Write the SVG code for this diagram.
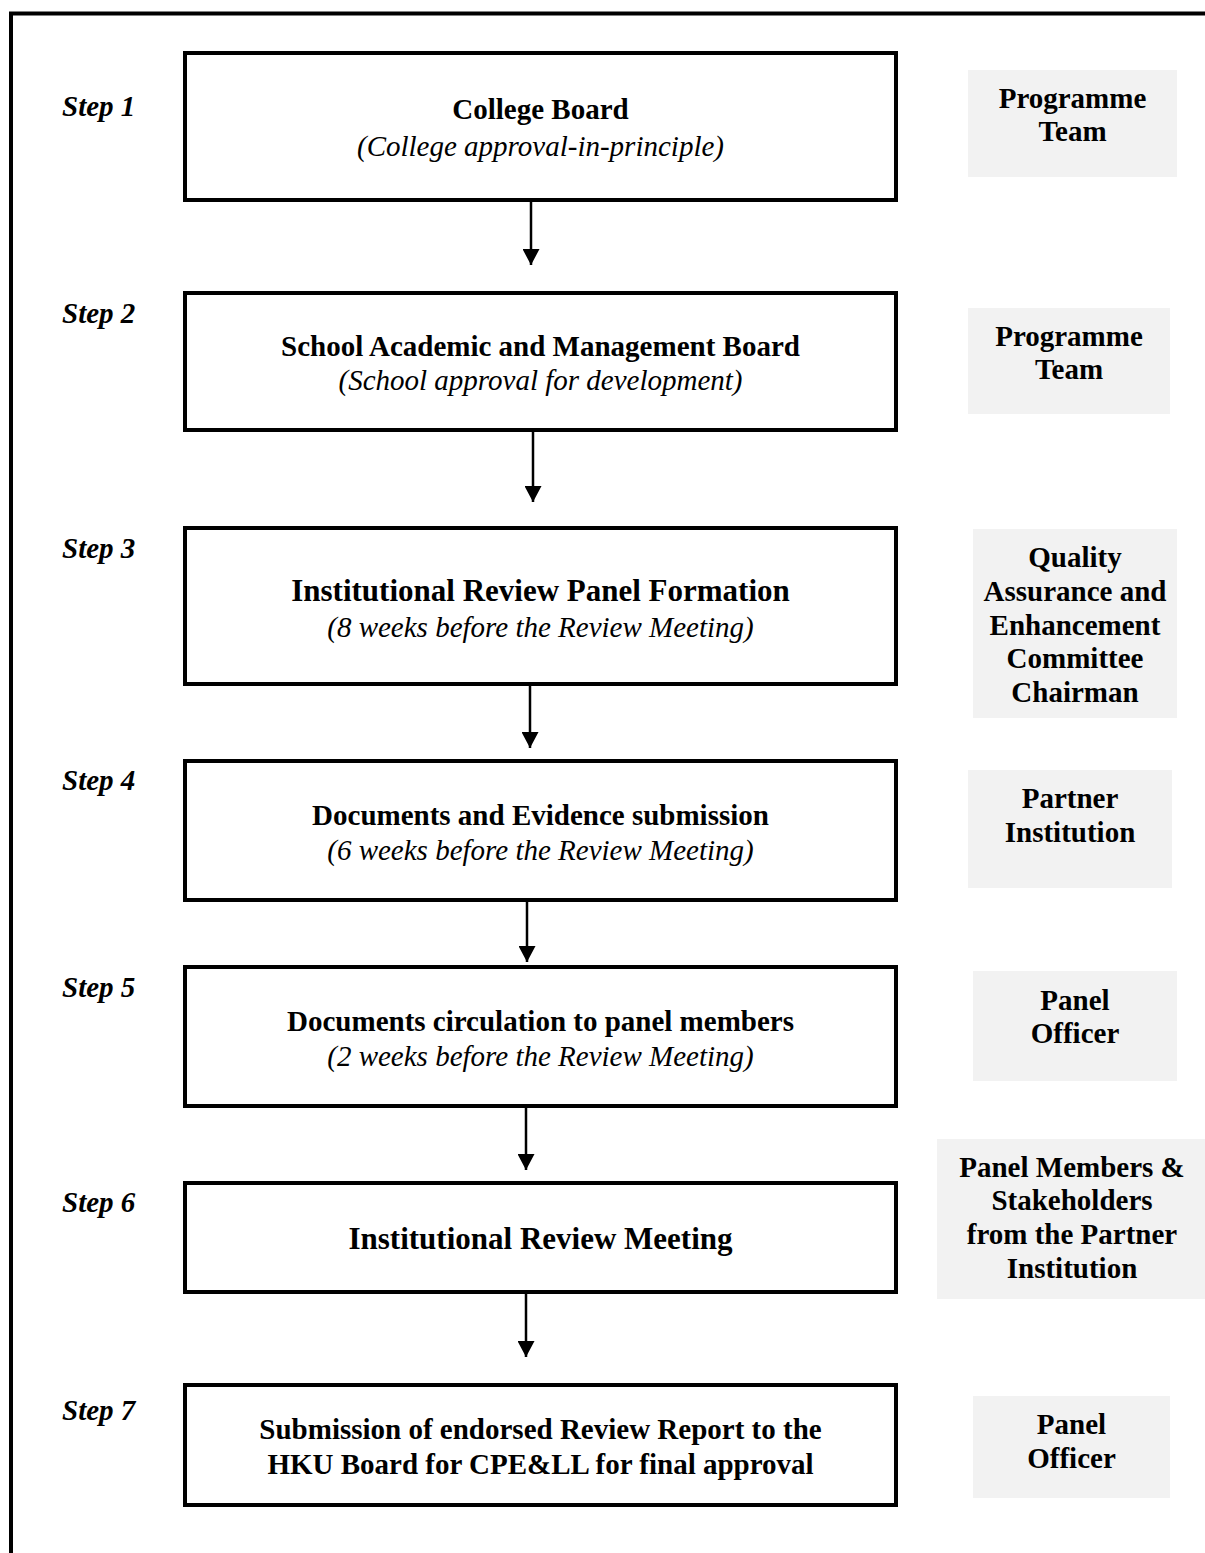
<svg xmlns="http://www.w3.org/2000/svg" width="1205" height="1553" viewBox="0 0 1205 1553">
  <style>
    text { font-family: "Liberation Serif", "Times New Roman", serif; font-size: 29px; fill: #000; }
    .step { font-weight: bold; font-style: italic; }
    .title { font-weight: bold; text-anchor: middle; }
    .big { font-size: 31px; }
    .sub { font-style: italic; text-anchor: middle; }
    .role { font-weight: bold; text-anchor: middle; }
    .box { fill: #fff; stroke: #000; stroke-width: 4; }
    .actor { fill: #f2f2f2; stroke: none; }
    .frame { fill: none; stroke: #000; stroke-width: 4; }
    .link { stroke: #000; stroke-width: 2.5; fill: none; }
  </style>
  <defs>
    <marker id="head" markerUnits="userSpaceOnUse" markerWidth="17" markerHeight="17" refX="16" refY="8.5" orient="auto">
      <path d="M0,0 L16,8.5 L0,17 Z" fill="#000"/>
    </marker>
  </defs>

  <rect x="0" y="0" width="1205" height="1553" fill="#fff"/>
  <!-- outer frame, running off the right and bottom edges -->
  <rect class="frame" x="11" y="13.5" width="1300" height="1700"/>

  <!-- step labels -->
  <g id="step-labels">
    <text class="step" x="62" y="116">Step 1</text>
    <text class="step" x="62" y="323">Step 2</text>
    <text class="step" x="62" y="558">Step 3</text>
    <text class="step" x="62" y="790">Step 4</text>
    <text class="step" x="62" y="997">Step 5</text>
    <text class="step" x="62" y="1212">Step 6</text>
    <text class="step" x="62" y="1420">Step 7</text>
  </g>

  <!-- connectors -->
  <g id="connectors">
    <line class="link" x1="531" y1="202" x2="531" y2="265" marker-end="url(#head)"/>
    <line class="link" x1="533" y1="432" x2="533" y2="502" marker-end="url(#head)"/>
    <line class="link" x1="530" y1="686" x2="530" y2="748" marker-end="url(#head)"/>
    <line class="link" x1="527" y1="902" x2="527" y2="962" marker-end="url(#head)"/>
    <line class="link" x1="526" y1="1108" x2="526" y2="1170" marker-end="url(#head)"/>
    <line class="link" x1="526" y1="1294" x2="526" y2="1357" marker-end="url(#head)"/>
  </g>

  <!-- process steps -->
  <g id="step1">
    <rect class="box" x="185" y="53" width="711" height="147"/>
    <text class="title" x="540.5" y="119">College Board</text>
    <text class="sub" x="540.5" y="156">(College approval-in-principle)</text>
  </g>
  <g id="step2">
    <rect class="box" x="185" y="293" width="711" height="137"/>
    <text class="title" x="540.5" y="356">School Academic and Management Board</text>
    <text class="sub" x="540.5" y="390">(School approval for development)</text>
  </g>
  <g id="step3">
    <rect class="box" x="185" y="528" width="711" height="156"/>
    <text class="title big" x="540.5" y="601">Institutional Review Panel Formation</text>
    <text class="sub" x="540.5" y="637">(8 weeks before the Review Meeting)</text>
  </g>
  <g id="step4">
    <rect class="box" x="185" y="761" width="711" height="139"/>
    <text class="title" x="540.5" y="825">Documents and Evidence submission</text>
    <text class="sub" x="540.5" y="860">(6 weeks before the Review Meeting)</text>
  </g>
  <g id="step5">
    <rect class="box" x="185" y="967" width="711" height="139"/>
    <text class="title" x="540.5" y="1031">Documents circulation to panel members</text>
    <text class="sub" x="540.5" y="1066">(2 weeks before the Review Meeting)</text>
  </g>
  <g id="step6">
    <rect class="box" x="185" y="1183" width="711" height="109"/>
    <text class="title big" x="540.5" y="1249">Institutional Review Meeting</text>
  </g>
  <g id="step7">
    <rect class="box" x="185" y="1385" width="711" height="120"/>
    <text class="title" x="540.5" y="1439">Submission of endorsed Review Report to the</text>
    <text class="title" x="540.5" y="1474">HKU Board for CPE&amp;LL for final approval</text>
  </g>

  <!-- responsible parties -->
  <g id="actor1">
    <rect class="actor" x="968" y="70" width="209" height="107"/>
    <text class="role" x="1072.5" y="108">Programme</text>
    <text class="role" x="1072.5" y="141">Team</text>
  </g>
  <g id="actor2">
    <rect class="actor" x="968" y="308" width="202" height="106"/>
    <text class="role" x="1069" y="346">Programme</text>
    <text class="role" x="1069" y="379">Team</text>
  </g>
  <g id="actor3">
    <rect class="actor" x="973" y="529" width="204" height="189"/>
    <text class="role" x="1075" y="567">Quality</text>
    <text class="role" x="1075" y="601">Assurance and</text>
    <text class="role" x="1075" y="635">Enhancement</text>
    <text class="role" x="1075" y="668">Committee</text>
    <text class="role" x="1075" y="702">Chairman</text>
  </g>
  <g id="actor4">
    <rect class="actor" x="968" y="770" width="204" height="118"/>
    <text class="role" x="1070" y="808">Partner</text>
    <text class="role" x="1070" y="842">Institution</text>
  </g>
  <g id="actor5">
    <rect class="actor" x="973" y="971" width="204" height="110"/>
    <text class="role" x="1075" y="1010">Panel</text>
    <text class="role" x="1075" y="1043">Officer</text>
  </g>
  <g id="actor6">
    <rect class="actor" x="937" y="1139" width="268" height="160"/>
    <text class="role" x="1072" y="1177">Panel Members &amp;</text>
    <text class="role" x="1072" y="1210">Stakeholders</text>
    <text class="role" x="1072" y="1244">from the Partner</text>
    <text class="role" x="1072" y="1278">Institution</text>
  </g>
  <g id="actor7">
    <rect class="actor" x="973" y="1396" width="197" height="102"/>
    <text class="role" x="1071.5" y="1434">Panel</text>
    <text class="role" x="1071.5" y="1468">Officer</text>
  </g>
</svg>
